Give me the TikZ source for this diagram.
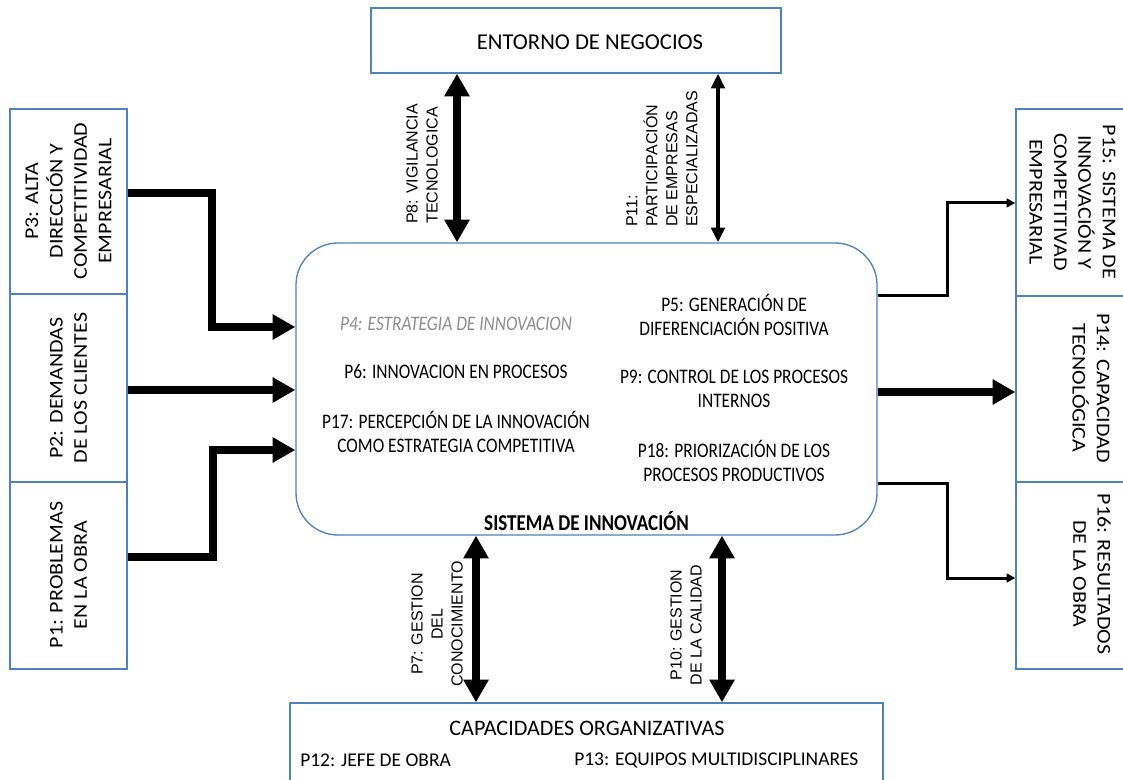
\documentclass[tikz,border=0pt]{standalone}
\usepackage{fontspec}
\setmainfont{Carlito}
\newfontfamily\condf[FakeStretch=0.84]{Carlito}
\newfontfamily\tallf[FakeStretch=1.13]{Carlito}
\newfontfamily\arialf{Liberation Sans}
\usetikzlibrary{arrows.meta}
\definecolor{boxblue}{RGB}{79,129,189}
\definecolor{p4gray}{RGB}{140,140,140}
\begin{document}
\begin{tikzpicture}[x=0.75pt,y=-0.75pt,
  box/.style={draw=boxblue,line width=1pt,inner sep=0pt,fill=white},
  vtxt/.style={font=\tallf\fontsize{14.6}{18.3}\selectfont,align=center,inner sep=0pt},
  ctxt/.style={font=\condf\fontsize{15.5}{18}\selectfont,align=center,inner sep=0pt},
  lbl/.style={font=\arialf\fontsize{12}{15}\selectfont,inner sep=0pt},
  bigarr/.style={line width=5.5pt,-{Triangle[length=17pt,width=18pt]}},
  bigdbl/.style={line width=5.5pt,{Triangle[length=17pt,width=18pt]}-{Triangle[length=17pt,width=18pt]}},
  middbl/.style={line width=3pt,{Triangle[length=11pt,width=10pt]}-{Triangle[length=11pt,width=10pt]}},
  thinarr/.style={line width=2.25pt,-{Triangle[length=6.5pt,width=6.5pt]}},
]
\fill[white] (0,0) rectangle (1123,780);
\useasboundingbox (0,0) rectangle (1123,780);

% boxes
\node[box,minimum width=87.75pt,minimum height=138.75pt] (p3) at (68.5,201.5) {};
\node[box,minimum width=87.75pt,minimum height=141pt] (p2) at (68.5,388) {};
\node[box,minimum width=87.75pt,minimum height=140.25pt] (p1) at (68.5,575.5) {};
\node[box,minimum width=87.75pt,minimum height=140.25pt] (p15) at (1074.5,202.5) {};
\node[box,minimum width=87.75pt,minimum height=139.5pt] (p14) at (1074.5,389) {};
\node[box,minimum width=87.75pt,minimum height=140.25pt] (p16) at (1074.5,575.5) {};
\node[box,minimum width=307.5pt,minimum height=48.75pt] (env) at (576,40.5) {};
\node[box,minimum width=444.75pt,minimum height=72.75pt] (cap) at (586.5,751.5) {};
\node[box,rounded corners=31.5pt,minimum width=435.75pt,minimum height=219pt] (sys) at (586.5,389) {};

% helper coordinates
\coordinate (x8) at (457,0);
\coordinate (x11) at (718,0);
\coordinate (x7) at (476,0);
\coordinate (x10) at (722,0);
\coordinate (y3) at (0,193);
\coordinate (bend3) at (212,327);
\coordinate (y2) at (0,390);
\coordinate (y1) at (0,557);
\coordinate (bend1) at (213,450);
\coordinate (r15) at (0,296);
\coordinate (bend15) at (947,203);
\coordinate (y14) at (0,392);
\coordinate (r16) at (0,483);
\coordinate (bend16) at (947,578);

% connectors
\draw[bigdbl] (env.south -| x8) -- (sys.north -| x8);
\draw[middbl] (env.south -| x11) -- (sys.north -| x11);
\draw[bigdbl] (sys.south -| x7) -- (cap.north -| x7);
\draw[bigdbl] (sys.south -| x10) -- (cap.north -| x10);
\draw[bigarr] (p3.east |- y3) -| (bend3) -- (sys.west |- bend3);
\draw[bigarr] (p2.east |- y2) -- (sys.west |- y2);
\draw[bigarr] (p1.east |- y1) -| (bend1) -- (sys.west |- bend1);
\draw[thinarr] (sys.east |- r15) -| (bend15) -- (p15.west |- bend15);
\draw[bigarr] (sys.east |- y14) -- (p14.west |- y14);
\draw[thinarr] (sys.east |- r16) -| (bend16) -- (p16.west |- bend16);

% box texts
\node[vtxt,rotate=90] (t3) at (68.5,201) {P3: ALTA\\DIRECCIÓN Y\\COMPETITIVIDAD\\EMPRESARIAL};
\node[vtxt,rotate=90] (t2) at (68.5,388) {P2: DEMANDAS\\DE LOS CLIENTES};
\node[vtxt,rotate=90] (t1) at (68.5,575) {P1: PROBLEMAS\\EN LA OBRA};
\node[vtxt,rotate=-90] (t15) at (1072.5,202) {P15: SISTEMA DE\\INNOVACIÓN Y\\COMPETITIVAD\\EMPRESARIAL};
\node[vtxt,rotate=-90] (t14) at (1091,388) {P14: CAPACIDAD\\TECNOLÓGICA};
\node[vtxt,rotate=-90] (t16) at (1092,574) {P16: RESULTADOS\\DE LA OBRA};

\node[font=\fontsize{17}{20}\selectfont,inner sep=0pt] (tenv) at (590,42) {ENTORNO DE NEGOCIOS};
\node[font=\fontsize{16.6}{20}\selectfont,inner sep=0pt] (tcap) at (587,728) {CAPACIDADES ORGANIZATIVAS};
\node[font=\fontsize{14.6}{17}\selectfont,inner sep=0pt,anchor=west] (t12) at (300,760) {P12: JEFE DE OBRA};
\node[font=\fontsize{14.6}{17}\selectfont,inner sep=0pt,anchor=west] (t13) at (574,760) {P13: EQUIPOS MULTIDISCIPLINARES};

% central texts
\node[ctxt,text=p4gray,font=\condf\itshape\fontsize{15.5}{18}\selectfont] (t4) at (456,324) {P4: ESTRATEGIA DE INNOVACION};
\node[ctxt] (t6) at (456,372) {P6: INNOVACION EN PROCESOS};
\node[ctxt] (t17) at (456,432) {P17: PERCEPCIÓN DE LA INNOVACIÓN\\COMO ESTRATEGIA COMPETITIVA};
\node[ctxt] (t5) at (734,315) {P5: GENERACIÓN DE\\DIFERENCIACIÓN POSITIVA};
\node[ctxt] (t9) at (734,389) {P9: CONTROL DE LOS PROCESOS\\INTERNOS};
\node[ctxt] (t18) at (734,461) {P18: PRIORIZACIÓN DE LOS\\PROCESOS PRODUCTIVOS};
\node[font=\condf\bfseries\fontsize{17}{20}\selectfont,inner sep=0pt] (tsys) at (586.5,521) {SISTEMA DE INNOVACIÓN};

% arrow labels
\node[lbl,rotate=90,align=left,anchor=west] (l8) at (422,224) {P8: VIGILANCIA\\TECNOLOGICA};
\node[lbl,rotate=90,align=left,anchor=west] (l11) at (662,227) {P11:\\PARTICIPACIÓN\\DE EMPRESAS\\ESPECIALIZADAS};
\node[lbl,rotate=90,align=center] (l7) at (437,624) {P7: GESTION\\DEL\\CONOCIMIENTO};
\node[lbl,rotate=90,align=center] (l10) at (686,625) {P10: GESTION\\DE LA CALIDAD};
\end{tikzpicture}
\end{document}
